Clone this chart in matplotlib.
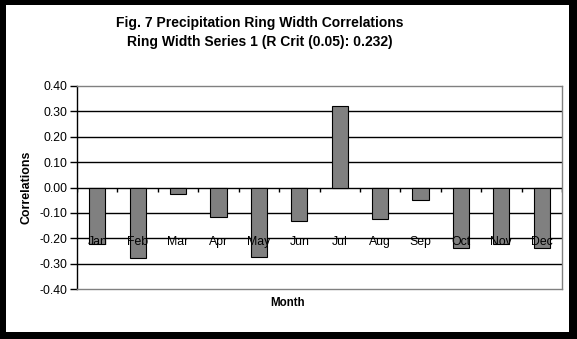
import numpy as np
import matplotlib
matplotlib.use("Agg")
from matplotlib import pyplot as plt
from matplotlib import patches, transforms

plt.rcParams['font.family'] = ['Liberation Sans', 'DejaVu Sans']
plt.rcParams['axes.unicode_minus'] = False

# chart data
months = ["Jan", "Feb", "Mar", "Apr", "May", "Jun", "Jul", "Aug", "Sep", "Oct", "Nov", "Dec"]
correlations = [-0.224, -0.279, -0.025, -0.116, -0.275, -0.133, 0.321, -0.125, -0.049, -0.240, -0.223, -0.240]
yticks = [-0.4, -0.3, -0.2, -0.1, 0.0, 0.1, 0.2, 0.3, 0.4]

W, H = 577, 339
fig = plt.figure(figsize=(W / 100, H / 100), dpi=100)
fig.patch.set_facecolor("black")
# white inner panel inside the black frame
fig.add_artist(patches.Rectangle((6 / W, 7 / H), 563 / W, 327 / H, transform=fig.transFigure,
                                 facecolor="white", edgecolor="none", zorder=-1))

ax = fig.add_axes([77 / W, 50 / H, 485 / W, 203 / H])
x = np.arange(len(months))

# horizontal gridlines
for v in yticks[1:-1]:
    ax.axhline(v, color="black", lw=1, zorder=1)

ax.bar(x, correlations, width=0.4, color="#808080", edgecolor="black", linewidth=0.8, zorder=2)

# small ticks on the zero line between categories
ax.vlines(np.arange(len(months) + 1) - 0.5, -0.016, 0, color="black", lw=1, zorder=3)

ax.set_xlim(-0.5, len(months) - 0.5)
ax.set_ylim(-0.4, 0.4)
ax.set_yticks(yticks)
ax.set_yticklabels(["%.2f" % v for v in yticks], fontsize=8.8)
ax.tick_params(axis="y", length=5, width=1, pad=2, color="black")
ax.set_xticks([])

tr = transforms.blended_transform_factory(ax.transData, ax.transAxes)
for i, m in enumerate(months):
    ax.text(i, 0.232, m, transform=tr, ha="center", va="center", fontsize=8.8, zorder=4)

for s in ["top", "right", "bottom"]:
    ax.spines[s].set_color("#808080")
    ax.spines[s].set_linewidth(1)
ax.spines["left"].set_color("black")
ax.spines["left"].set_linewidth(1)

fig.text(260 / W, 1 - 23 / H, "Fig. 7 Precipitation Ring Width Correlations",
         ha="center", va="center", fontsize=10, fontweight="bold")
fig.text(260 / W, 1 - 42 / H, "Ring Width Series 1 (R Crit (0.05): 0.232)",
         ha="center", va="center", fontsize=10, fontweight="bold")
fig.text(27 / W, 1 - 187 / H, "Correlations", rotation=90,
         ha="center", va="center", fontsize=8.9, fontweight="bold")
fig.text(288 / W, 1 - 303 / H, "Month",
         ha="center", va="center", fontsize=8.3, fontweight="bold")

fig.savefig("out.png", dpi=100, facecolor=fig.get_facecolor())
